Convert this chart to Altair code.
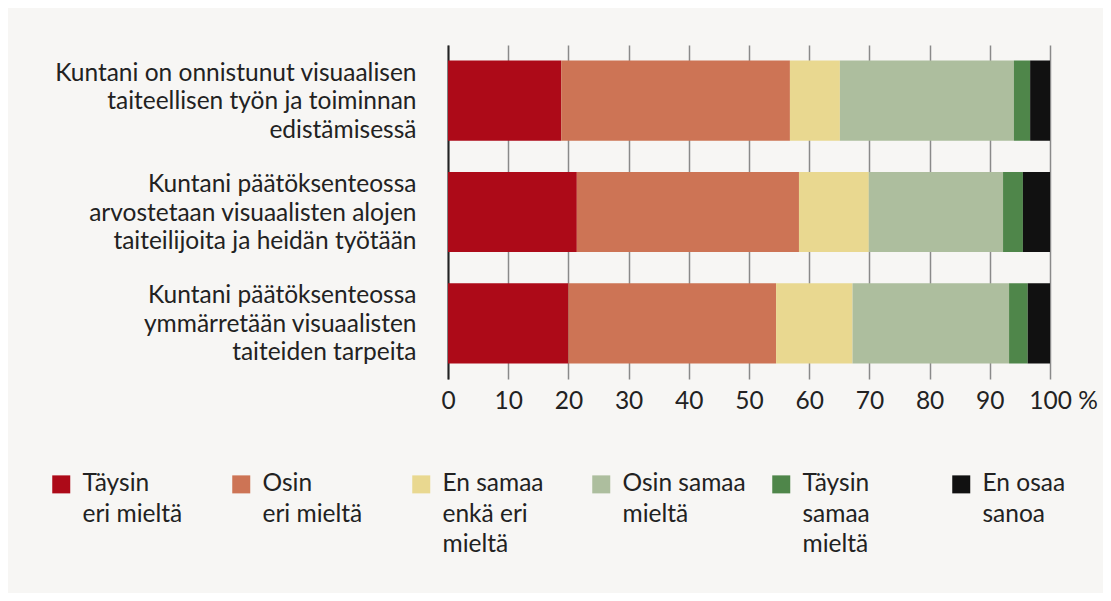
import altair as alt
import pandas as pd

questions = [
    "Kuntani on onnistunut visuaalisen|taiteellisen työn ja toiminnan|edistämisessä",
    "Kuntani päätöksenteossa|arvostetaan visuaalisten alojen|taiteilijoita ja heidän työtään",
    "Kuntani päätöksenteossa|ymmärretään visuaalisten|taiteiden tarpeita",
]
answers = [
    "Täysin|eri mieltä",
    "Osin|eri mieltä",
    "En samaa|enkä eri|mieltä",
    "Osin samaa|mieltä",
    "Täysin|samaa|mieltä",
    "En osaa|sanoa",
]
colors = ["#ad0a18", "#cd7455", "#e9d890", "#adbe9e", "#4f864a", "#111111"]
values = [
    [18.8, 38.0, 8.3, 28.9, 2.7, 3.3],
    [21.4, 36.9, 11.6, 22.3, 3.3, 4.5],
    [20.0, 34.5, 12.7, 26.0, 3.1, 3.7],
]
x_ticks = [0, 10, 20, 30, 40, 50, 60, 70, 80, 90, 100]

rows = []
for qi, q in enumerate(questions):
    for ai, a in enumerate(answers):
        rows.append({"q": q, "a": a, "ai": ai, "v": values[qi][ai]})
df = pd.DataFrame(rows)

FONT = "Lato"
TXT = "#222222"
FS = 24.5

chart = alt.Chart(df).mark_bar().encode(
    y=alt.Y(
        "q:N",
        sort=questions,
        scale=alt.Scale(paddingInner=0.28, paddingOuter=0.14),
        axis=alt.Axis(
            title=None,
            labelExpr="split(datum.label, '|')",
            labelAlign="right",
            labelBaseline="middle",
            labelPadding=32,
            labelOffset=-27,
            labelLineHeight=28.5,
            labelFontSize=FS,
            labelColor=TXT,
            labelLimit=500,
            ticks=False,
            domainColor="#222222",
            domainWidth=2,
            grid=False,
        ),
    ),
    x=alt.X(
        "v:Q",
        stack="zero",
        scale=alt.Scale(domain=[0, 100], nice=False),
        axis=alt.Axis(
            title=None,
            values=x_ticks,
            labelExpr="datum.value == 100 ? '100 %' : datum.label",
            labelOffset={"condition": {"test": "datum.value == 100", "value": 13}, "value": 0},
            labelOverlap=False,
            labelFlush=False,
            labelFontSize=FS,
            labelColor=TXT,
            labelPadding=10,
            domain=False,
            ticks=False,
            grid=True,
            gridColor="#8a8a8a",
            gridWidth=1.5,
        ),
    ),
    color=alt.Color(
        "a:N",
        sort=answers,
        scale=alt.Scale(domain=answers, range=colors),
        legend=alt.Legend(
            title=None,
            orient="none",
            legendX=-399,
            legendY=427,
            direction="horizontal",
            columns=6,
            gridAlign="all",
            columnPadding=23,
            symbolType="square",
            symbolSize=324,
            symbolStrokeWidth=0,
            symbolOpacity=1,
            labelExpr="slice(split(datum.label + '||', '|'), 0, 3)",
            labelFontSize=FS,
            labelColor=TXT,
            labelBaseline="middle",
            labelOffset=9,
            labelLimit=300,
            padding=0,
        ),
    ),
    order=alt.Order("ai:Q"),
).properties(
    width=602,
    height=334,
    background="#f7f6f4",
    padding={"left": 440, "top": 37, "right": 53, "bottom": 214},
    autosize=alt.AutoSizeParams(type="none"),
).configure(
    font=FONT,
    style={"guide-label": {"lineHeight": 30.5, "font": FONT}},
).configure_view(
    stroke=None,
)

chart.save("out.html", embed_options={"renderer": "svg", "actions": False})
